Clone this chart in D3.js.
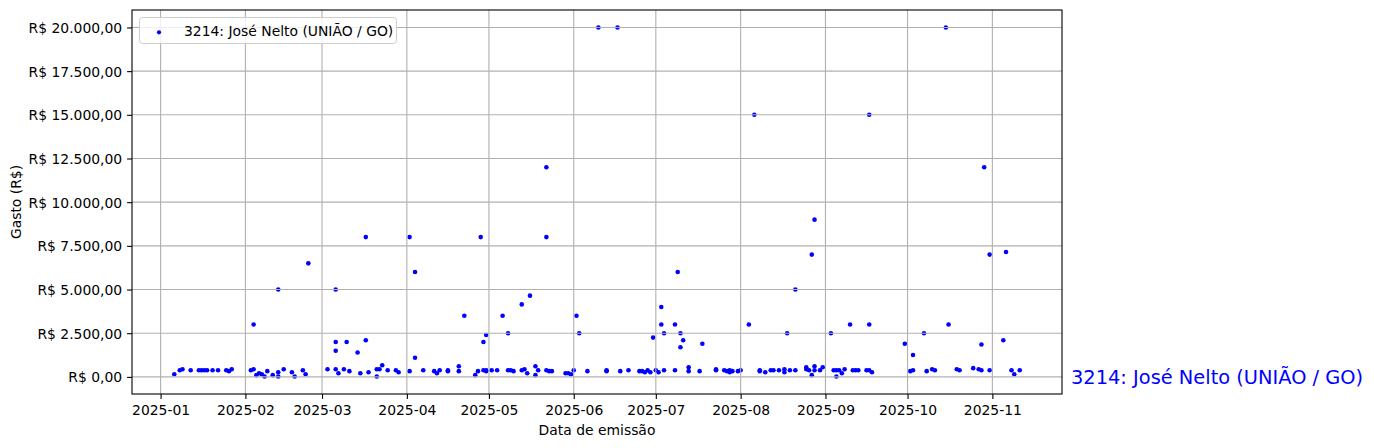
<!DOCTYPE html>
<html>
<head>
<meta charset="utf-8">
<script src="https://cdn.jsdelivr.net/npm/d3@7"></script>
<style>
  html, body { margin: 0; padding: 0; background: #fff; }
  svg { display: block; font-family: "DejaVu Sans", sans-serif; }
</style>
</head>
<body>
<svg id="chart" width="1374" height="448"></svg>
<script>
const seriesName = "3214: José Nelto (UNIÃO / GO)";
const yTickValues = [0, 2500, 5000, 7500, 10000, 12500, 15000, 17500, 20000];
const xTickLabels = ["2025-01","2025-02","2025-03","2025-04","2025-05","2025-06","2025-07","2025-08","2025-09","2025-10","2025-11"];

const dates = [
  "2025-01-06","2025-01-08","2025-01-09","2025-01-12","2025-01-15","2025-01-16","2025-01-17","2025-01-18","2025-01-20","2025-01-22","2025-01-25","2025-01-26","2025-01-27",
  "2025-02-03","2025-02-04","2025-02-04","2025-02-05","2025-02-06","2025-02-07","2025-02-08","2025-02-09","2025-02-11","2025-02-13","2025-02-13","2025-02-13","2025-02-15","2025-02-18","2025-02-19","2025-02-22","2025-02-23","2025-02-24",
  "2025-03-03","2025-03-06","2025-03-06","2025-03-06","2025-03-06","2025-03-07","2025-03-09","2025-03-10","2025-03-11","2025-03-14","2025-03-15","2025-03-17","2025-03-17","2025-03-18","2025-03-21","2025-03-21","2025-03-22","2025-03-23","2025-03-25","2025-03-28","2025-03-29",
  "2025-04-02","2025-04-02","2025-04-04","2025-04-04","2025-04-07","2025-04-11","2025-04-12","2025-04-13","2025-04-16","2025-04-16","2025-04-20","2025-04-20","2025-04-22","2025-04-26","2025-04-27","2025-04-28","2025-04-29","2025-04-29","2025-04-30","2025-04-30","2025-04-30","2025-05-02",
  "2025-05-04","2025-05-06","2025-05-08","2025-05-08","2025-05-09","2025-05-10","2025-05-13","2025-05-13","2025-05-14","2025-05-15","2025-05-16","2025-05-18","2025-05-18","2025-05-19","2025-05-22","2025-05-22","2025-05-22","2025-05-23","2025-05-24","2025-05-29","2025-05-30","2025-05-31","2025-06-01","2025-06-02","2025-06-03","2025-06-06",
  "2025-06-10","2025-06-13","2025-06-13","2025-06-17","2025-06-18","2025-06-21","2025-06-25","2025-06-26","2025-06-27","2025-06-28","2025-06-29","2025-06-30","2025-07-01",
  "2025-07-02","2025-07-03","2025-07-03","2025-07-04","2025-07-04","2025-07-08","2025-07-08","2025-07-09","2025-07-10","2025-07-10","2025-07-11","2025-07-13","2025-07-13","2025-07-17","2025-07-18","2025-07-23","2025-07-23","2025-07-26","2025-07-27","2025-07-28","2025-07-28","2025-07-29","2025-07-31","2025-08-01",
  "2025-08-04","2025-08-06","2025-08-08","2025-08-08","2025-08-10","2025-08-12","2025-08-13","2025-08-15","2025-08-17","2025-08-17","2025-08-18","2025-08-19","2025-08-21","2025-08-21","2025-08-25","2025-08-25","2025-08-26","2025-08-27","2025-08-27","2025-08-28","2025-08-28","2025-08-28","2025-08-30","2025-08-31",
  "2025-09-03","2025-09-04","2025-09-05","2025-09-05","2025-09-06","2025-09-07","2025-09-08","2025-09-10","2025-09-11","2025-09-12","2025-09-13","2025-09-16","2025-09-17","2025-09-17","2025-09-17","2025-09-18","2025-09-30",
  "2025-10-02","2025-10-03","2025-10-03","2025-10-07","2025-10-08","2025-10-10","2025-10-11","2025-10-15","2025-10-16","2025-10-19","2025-10-20","2025-10-25","2025-10-27","2025-10-28","2025-10-28","2025-10-29","2025-10-31","2025-10-31",
  "2025-11-05","2025-11-06","2025-11-08","2025-11-09","2025-11-11"
];
const values = [
  150,380,440,380,380,380,380,380,380,380,380,330,440,
  380,3000,440,100,210,150,20,330,100,270,5000,20,440,270,20,380,150,6500,
  440,5000,2000,1500,440,210,440,2000,330,1400,210,8000,2100,270,20,440,440,670,380,380,270,
  8000,330,6000,1100,380,330,210,380,380,330,610,330,3500,100,330,8000,380,2000,380,2400,330,380,
  380,3500,2500,380,380,330,380,4150,440,210,4650,610,100,380,12000,8000,380,330,330,210,210,150,380,3500,2500,330,
  20000,380,330,20000,330,380,330,330,270,380,270,2250,380,
  270,4000,3000,380,2500,380,3000,6000,2500,1700,2100,550,330,330,1900,440,380,380,330,380,270,330,330,380,
  3000,15000,380,330,270,380,380,380,440,270,2500,380,5000,380,550,440,380,7000,100,610,380,9000,380,550,
  2500,380,380,20,380,210,440,3000,380,380,380,380,15000,3000,380,270,1900,
  330,380,1250,2500,330,440,380,20000,3000,440,380,500,440,1850,380,12000,7000,380,
  2100,7150,380,150,380
];

const parse = d3.timeParse("%Y-%m-%d");
const data = dates.map((d, i) => ({ date: parse(d), value: values[i] }));

const W = 1374, H = 448;
const plot = { left: 132, right: 1062, top: 10, bottom: 394 };
const svg = d3.select("#chart");
svg.append("rect").attr("width", W).attr("height", H).attr("fill", "#fff");

// x scale with 5% margins like matplotlib
const xExt = d3.extent(data, d => d.date);
const xSpan = xExt[1] - xExt[0];
const x = d3.scaleTime()
  .domain([new Date(+xExt[0] - 0.05 * xSpan), new Date(+xExt[1] + 0.05 * xSpan)])
  .range([plot.left, plot.right]);

const yExt = d3.extent(data, d => d.value);
const ySpan = yExt[1] - yExt[0];
const y = d3.scaleLinear()
  .domain([yExt[0] - 0.05 * ySpan, yExt[1] + 0.05 * ySpan])
  .range([plot.bottom, plot.top]);

const xTicks = xTickLabels.map(s => d3.timeParse("%Y-%m")(s));
const fmtY = v => "R$ " + d3.format(",.2f")(v).replace(/,/g, "X").replace(/\./g, ",").replace(/X/g, ".");

// points (below grid as in matplotlib)
svg.append("g").selectAll("circle").data(data).join("circle")
  .attr("cx", d => x(d.date)).attr("cy", d => y(d.value))
  .attr("r", 2.3).attr("fill", "#0000ff");

// grid
const grid = svg.append("g").attr("stroke", "#b0b0b0").attr("stroke-width", 1.1);
grid.selectAll(".gx").data(xTicks).join("line")
  .attr("x1", d => x(d)).attr("x2", d => x(d))
  .attr("y1", plot.top).attr("y2", plot.bottom);
grid.selectAll(".gy").data(yTickValues).join("line")
  .attr("x1", plot.left).attr("x2", plot.right)
  .attr("y1", d => y(d)).attr("y2", d => y(d));

// axes
const xAxis = d3.axisBottom(x).tickValues(xTicks).tickFormat((d, i) => xTickLabels[i])
  .tickSizeInner(4.9).tickSizeOuter(0).tickPadding(4.9);
const yAxis = d3.axisLeft(y).tickValues(yTickValues).tickFormat(fmtY)
  .tickSizeInner(4.9).tickSizeOuter(0).tickPadding(4.9);

const gx = svg.append("g").attr("transform", `translate(0,${plot.bottom})`).call(xAxis);
const gy = svg.append("g").attr("transform", `translate(${plot.left},0)`).call(yAxis);
[gx, gy].forEach(g => {
  g.select(".domain").remove();
  g.selectAll(".tick line").attr("stroke", "#000").attr("stroke-width", 1.1);
  g.selectAll(".tick text").attr("fill", "#000").attr("font-size", 13.9).attr("font-family", "DejaVu Sans");
});
gy.selectAll(".tick text").attr("dy", "0.36em");
gx.selectAll(".tick text").attr("dy", "0.78em");

// spines
svg.append("rect").attr("x", plot.left).attr("y", plot.top)
  .attr("width", plot.right - plot.left).attr("height", plot.bottom - plot.top)
  .attr("fill", "none").attr("stroke", "#000").attr("stroke-width", 1.1);

// axis labels
svg.append("text").attr("x", (plot.left + plot.right) / 2).attr("y", 435)
  .attr("text-anchor", "middle").attr("font-size", 13.9).text("Data de emissão");
svg.append("text").attr("transform", `translate(21,${(plot.top + plot.bottom) / 2}) rotate(-90)`)
  .attr("text-anchor", "middle").attr("font-size", 13.9).text("Gasto (R$)");

// legend
const lg = svg.append("g");
lg.append("rect").attr("x", 139.5).attr("y", 17.5).attr("width", 257).attr("height", 26)
  .attr("rx", 3).attr("fill", "#fff").attr("fill-opacity", 0.8)
  .attr("stroke", "#cccccc").attr("stroke-width", 1);
lg.append("circle").attr("cx", 159).attr("cy", 32.3).attr("r", 2.1).attr("fill", "#0000ff");
lg.append("text").attr("x", 184).attr("y", 35.5).attr("font-size", 13.9).attr("fill", "#000")
  .text(seriesName);

// right-side label
svg.append("text").attr("x", 1071).attr("y", y(0) + 7.5)
  .attr("font-size", 19.4).attr("fill", "#0000ff").text(seriesName);
</script>
</body>
</html>
